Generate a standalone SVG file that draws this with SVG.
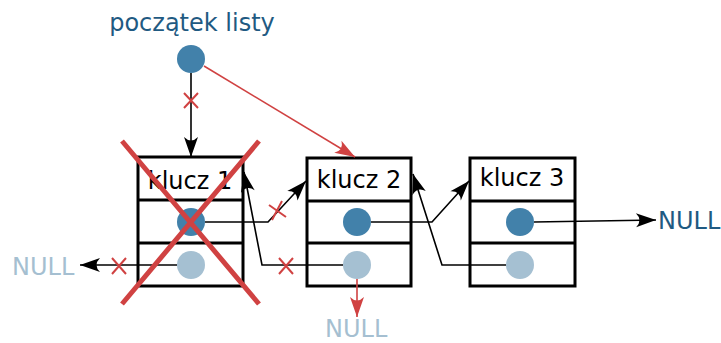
<svg xmlns="http://www.w3.org/2000/svg" width="721" height="343" viewBox="0 0 721 343">
<style>
text{font-family:"DejaVu Sans",sans-serif;font-size:24px}
.box{fill:#fff;stroke:#000;stroke-width:3}
.div{stroke:#000;stroke-width:3}
.dark{fill:#4281aa}
.light{fill:#a5c0d2}
.ln{fill:none;stroke:#000;stroke-width:1.6}
.rl{fill:none;stroke:#d04242;stroke-width:1.6}
.rx{fill:none;stroke:#d04242;stroke-width:2}
.big{fill:none;stroke:#d04242;stroke-width:5}
</style>
<defs>
<marker id="ab" markerUnits="userSpaceOnUse" markerWidth="22" markerHeight="18" viewBox="-21 -9 22 18" refX="0" refY="0" orient="auto">
<path d="M0,0 L-20,-7 Q-13,0 -20,7 Z" fill="#000"/>
</marker>
<marker id="ar" markerUnits="userSpaceOnUse" markerWidth="22" markerHeight="18" viewBox="-21 -9 22 18" refX="0" refY="0" orient="auto">
<path d="M0,0 L-20,-7 Q-13,0 -20,7 Z" fill="#d04242"/>
</marker>
</defs>
<g id="head">
<text x="192" y="31" text-anchor="middle" fill="#1f5a82">początek listy</text>
<circle class="dark" cx="191" cy="59" r="14"/>
</g>
<g id="node1">
<rect class="box" x="138" y="157" width="105" height="129"/>
<line class="div" x1="138" y1="200" x2="243" y2="200"/>
<line class="div" x1="138" y1="243" x2="243" y2="243"/>
<text x="190" y="189" text-anchor="middle" fill="#000">klucz 1</text>
<circle class="dark" cx="191" cy="222" r="14"/>
<circle class="light" cx="191" cy="265" r="14"/>
</g>
<g id="node2">
<rect class="box" x="307" y="158" width="104" height="128"/>
<line class="div" x1="307" y1="201" x2="411" y2="201"/>
<line class="div" x1="307" y1="243" x2="411" y2="243"/>
<text x="359" y="188" text-anchor="middle" fill="#000">klucz 2</text>
<circle class="dark" cx="357" cy="222" r="14"/>
<circle class="light" cx="357" cy="265" r="14"/>
</g>
<g id="node3">
<rect class="box" x="470" y="158" width="105" height="128"/>
<line class="div" x1="470" y1="201" x2="575" y2="201"/>
<line class="div" x1="470" y1="243" x2="575" y2="243"/>
<text x="522" y="186" text-anchor="middle" fill="#000">klucz 3</text>
<circle class="dark" cx="520" cy="222" r="14"/>
<circle class="light" cx="520" cy="265" r="14"/>
</g>
<g id="labels">
<text x="12" y="275" fill="#a5bfd1">NULL</text>
<text x="325" y="337" fill="#a5bfd1">NULL</text>
<text x="658" y="229" fill="#1f5a82">NULL</text>
</g>
<g id="connectors">
<path class="ln" d="M191,73 V157" marker-end="url(#ab)"/>
<path class="rl" d="M204,66 L355,157" marker-end="url(#ar)"/>
<path class="ln" d="M205,222 H268 L306,181" marker-end="url(#ab)"/>
<path class="ln" d="M343,265 H262 L244,172" marker-end="url(#ab)"/>
<path class="ln" d="M177,265 H80" marker-end="url(#ab)"/>
<path class="ln" d="M371,222 H432 L469,181" marker-end="url(#ab)"/>
<path class="ln" d="M506,265 H442 L413,174" marker-end="url(#ab)"/>
<path class="ln" d="M534,222 L656,220" marker-end="url(#ab)"/>
<path class="rl" d="M357,279 V317" marker-end="url(#ar)"/>
<path class="rx" d="M184,93 L198,108 M198,93 L184,108"/>
<path class="rx" d="M269,205 L286,217 M282,201 L272,220"/>
<path class="rx" d="M279,258 L293,274 M293,258 L279,274"/>
<path class="rx" d="M112,258 L126,274 M126,258 L112,274"/>
<path class="big" d="M122,141 L259,304 M259,141 L122,304"/>
</g>
</svg>
